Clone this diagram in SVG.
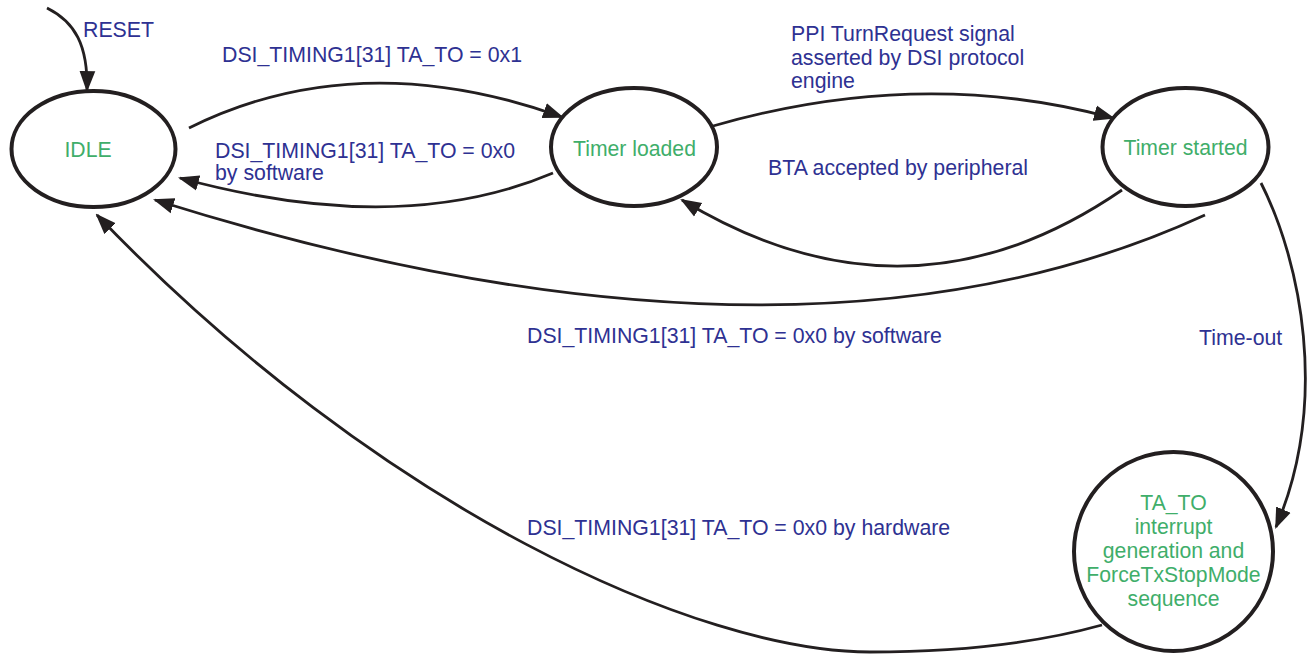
<svg xmlns="http://www.w3.org/2000/svg" width="1307" height="654" viewBox="0 0 1307 654">
<defs>
<marker id="arr" markerUnits="userSpaceOnUse" markerWidth="21" markerHeight="17" viewBox="0 0 20 15" refX="18" refY="7.5" orient="auto">
<path d="M0,0 L20,7.5 L0,15 z" fill="#231f20"/>
</marker>
<style>
.state{fill:#fff;stroke:#231f20;stroke-width:4}
.st{font-family:"Liberation Sans",Arial,sans-serif;font-size:21.2px;fill:#3fae6a;text-anchor:middle}
.lbl{font-family:"Liberation Sans",Arial,sans-serif;font-size:21.3px;fill:#2e3192}
.edge{fill:none;stroke:#231f20;stroke-width:2.8;marker-end:url(#arr)}
</style>
</defs>
<rect width="1307" height="654" fill="#fff"/>
<g id="connectors">
<path class="edge" d="M47,8 C75,22 88,45 87,90"/>
<path class="edge" d="M189,128 Q358,44 562,117"/>
<path class="edge" d="M553,173 Q400,238 180,178"/>
<path class="edge" d="M713,126 Q921,66 1113,118"/>
<path class="edge" d="M1122,190 Q908,337 682,200"/>
<path class="edge" d="M1205,215 Q798,402 155,200"/>
<path class="edge" d="M1261,183 C1300,260 1330,400 1276,527"/>
<path class="edge" d="M1102,625 C1030,645 950,652 870,652 C700,652 380,510 97,215"/>
</g>
<g id="idle">
<ellipse class="state" cx="93.5" cy="149" rx="82" ry="58"/>
<text class="st" x="88" y="157">IDLE</text>
</g>
<g id="timer-loaded">
<ellipse class="state" cx="634" cy="147" rx="83" ry="59"/>
<text class="st" x="634.5" y="156">Timer loaded</text>
</g>
<g id="timer-started">
<ellipse class="state" cx="1185.5" cy="147" rx="83" ry="59"/>
<text class="st" x="1185.5" y="155">Timer started</text>
</g>
<g id="ta-to">
<circle class="state" cx="1173.5" cy="551.5" r="99.5"/>
<text class="st" x="1173.5" y="510">TA_TO</text>
<text class="st" x="1173.5" y="534">interrupt</text>
<text class="st" x="1173.5" y="558">generation and</text>
<text class="st" x="1173.5" y="582">ForceTxStopMode</text>
<text class="st" x="1173.5" y="606">sequence</text>
</g>
<g id="labels">
<text class="lbl" x="83" y="37">RESET</text>
<text class="lbl" x="222" y="62">DSI_TIMING1[31] TA_TO = 0x1</text>
<text class="lbl" x="215" y="158">DSI_TIMING1[31] TA_TO = 0x0</text>
<text class="lbl" x="215" y="180">by software</text>
<text class="lbl" x="791" y="41">PPI TurnRequest signal</text>
<text class="lbl" x="791" y="65">asserted by DSI protocol</text>
<text class="lbl" x="791" y="88">engine</text>
<text class="lbl" x="768" y="175">BTA accepted by peripheral</text>
<text class="lbl" x="527" y="343">DSI_TIMING1[31] TA_TO = 0x0 by software</text>
<text class="lbl" x="1199" y="345">Time-out</text>
<text class="lbl" x="527" y="535">DSI_TIMING1[31] TA_TO = 0x0 by hardware</text>
</g>
</svg>
